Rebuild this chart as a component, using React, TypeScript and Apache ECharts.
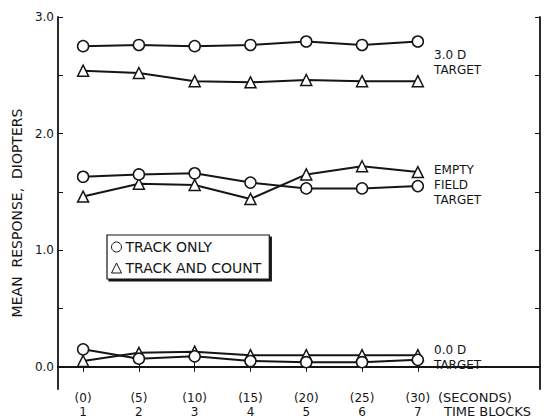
import React, { useEffect, useRef } from "react";
import * as echarts from "echarts";

const timeBlocks = [1, 2, 3, 4, 5, 6, 7];
const seconds = [0, 5, 10, 15, 20, 25, 30];
const yTickLabels = [0, 1, 2, 3];
const yTicks = [0, 0.5, 1, 1.5, 2, 2.5, 3];

const target3TrackOnly = [2.75, 2.76, 2.75, 2.76, 2.79, 2.76, 2.79];
const target3TrackCount = [2.54, 2.52, 2.45, 2.44, 2.46, 2.45, 2.45];
const emptyTrackOnly = [1.63, 1.65, 1.66, 1.58, 1.53, 1.53, 1.55];
const emptyTrackCount = [1.46, 1.57, 1.56, 1.44, 1.65, 1.72, 1.67];
const target0TrackOnly = [0.15, 0.07, 0.09, 0.05, 0.04, 0.04, 0.06];
const target0TrackCount = [0.05, 0.12, 0.13, 0.1, 0.1, 0.1, 0.1];

const FONT = "DejaVu Sans";
const INK = "#151515";

function pairs(vals: number[]) {
  return timeBlocks.map((t, i) => [t, vals[i]]);
}

export default function App() {
  const ref = useRef<HTMLDivElement>(null);
  useEffect(() => {
    if (!ref.current) return;
    const chart = echarts.init(ref.current, null, { renderer: "svg" });
    const mk = (name: string, vals: number[], tri: boolean) => ({
      type: "line",
      name,
      data: pairs(vals),
      symbol: tri ? "triangle" : "circle",
      symbolSize: tri ? 11 : 11,
      lineStyle: { color: INK, width: 2 },
      itemStyle: { color: "#fff", borderColor: INK, borderWidth: 1.5 },
      z: tri ? 3 : 4,
    });
    const txt = (x: number, y: number, text: string, size = 12) => ({
      type: "text",
      x,
      y,
      style: { text, font: `${size}px "${FONT}"`, fill: INK, verticalAlign: "middle", align: "left" },
    });
    chart.setOption({
      animation: false,
      backgroundColor: "#fff",
      textStyle: { fontFamily: FONT, color: INK },
      grid: { left: 58, top: 17, right: 4, bottom: 30 },
      xAxis: [
        {
          type: "value",
          min: 0.55,
          max: 9.19,
          position: "bottom",
          splitLine: { show: false },
          axisLine: { lineStyle: { color: INK, width: 1.8 } },
          axisTick: { inside: true, length: 5, customValues: timeBlocks, lineStyle: { color: INK } },
          axisLabel: {
            customValues: timeBlocks,
            color: INK,
            fontSize: 12,
            fontFamily: FONT,
            lineHeight: 14,
            margin: 2,
            formatter: (v: number) => `(${seconds[timeBlocks.indexOf(v)]})\n${v}`,
          },
        },
        {
          type: "value",
          min: 0.55,
          max: 9.19,
          position: "top",
          splitLine: { show: false },
          axisLine: { lineStyle: { color: INK, width: 1.8 } },
          axisTick: { inside: true, length: 5, customValues: timeBlocks, lineStyle: { color: INK } },
          axisLabel: { show: false },
        },
      ],
      yAxis: [
        {
          type: "value",
          min: -0.19,
          max: 3.0,
          position: "left",
          splitLine: { show: false },
          axisLine: { lineStyle: { color: INK, width: 1.8 } },
          axisTick: { inside: true, length: 5, customValues: yTicks, lineStyle: { color: INK } },
          axisLabel: {
            customValues: yTickLabels,
            color: INK,
            fontSize: 12,
            fontFamily: FONT,
            margin: 4,
            formatter: (v: number) => v.toFixed(1),
          },
          name: "MEAN  RESPONSE,  DIOPTERS",
          nameLocation: "middle",
          nameGap: 32,
          nameRotate: 90,
          nameTextStyle: { fontSize: 14, color: INK, fontFamily: FONT, padding: [0, 0, 0, -20] },
        },
        {
          type: "value",
          min: -0.19,
          max: 3.0,
          position: "right",
          splitLine: { show: false },
          axisLine: { lineStyle: { color: INK, width: 1.8 } },
          axisTick: { inside: true, length: 5, customValues: yTicks, lineStyle: { color: INK } },
          axisLabel: { show: false },
        },
      ],
      legend: {
        orient: "vertical",
        left: 107,
        top: 235,
        itemGap: 7,
        itemWidth: 10,
        itemHeight: 10,
        padding: [5, 8, 4, 4],
        borderColor: INK,
        borderWidth: 1.2,
        backgroundColor: "#fff",
        shadowColor: INK,
        shadowOffsetX: 2,
        shadowOffsetY: 2,
        shadowBlur: 0,
        textStyle: { fontSize: 14, color: INK, fontFamily: FONT, padding: [0, 0, 0, -1] },
        data: [
          { name: "TRACK ONLY", icon: "circle", itemStyle: { color: "#fff", borderColor: INK, borderWidth: 1 } },
          { name: "TRACK AND COUNT", icon: "triangle", itemStyle: { color: "#fff", borderColor: INK, borderWidth: 1 } },
        ],
      },
      series: [
        mk("TRACK ONLY", target3TrackOnly, false),
        mk("TRACK AND COUNT", target3TrackCount, true),
        mk("TRACK ONLY", emptyTrackOnly, false),
        mk("TRACK AND COUNT", emptyTrackCount, true),
        mk("TRACK ONLY", target0TrackOnly, false),
        mk("TRACK AND COUNT", target0TrackCount, true),
      ],
      graphic: [
        txt(434, 55, "3.0 D"),
        txt(434, 70, "TARGET"),
        txt(434, 170, "EMPTY"),
        txt(434, 185, "FIELD"),
        txt(434, 200, "TARGET"),
        txt(434, 350, "0.0 D"),
        txt(434, 365, "TARGET"),
        txt(438, 397, "(SECONDS)", 13),
        txt(444, 411, "TIME BLOCKS", 13),
      ],
    });
    return () => chart.dispose();
  }, []);
  return <div ref={ref} style={{ position: "fixed", left: 0, top: 0, width: 544, height: 419 }} />;
}
